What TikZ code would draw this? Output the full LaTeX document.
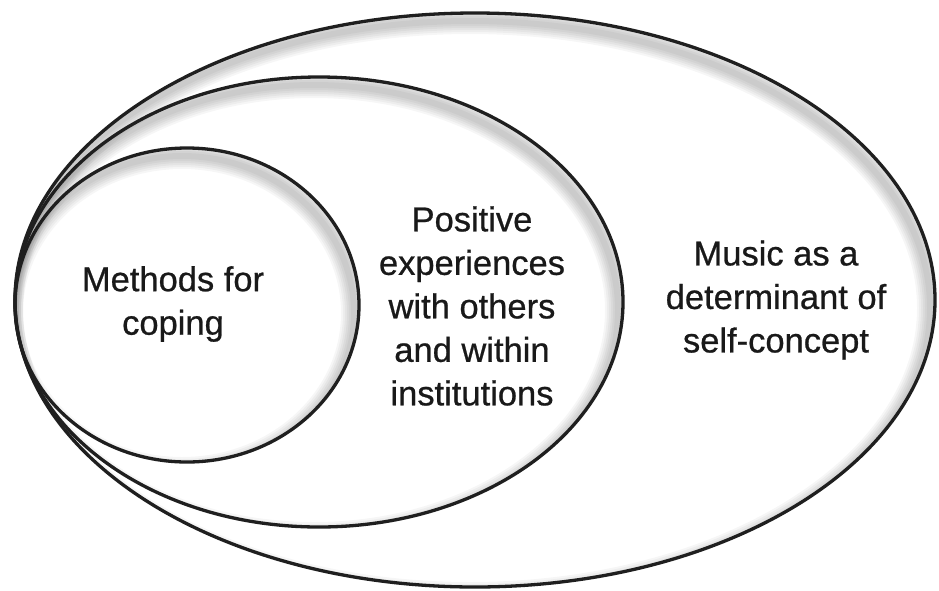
\documentclass[tikz,border=0pt]{standalone}
\usepackage{fontspec}
\setmainfont{Liberation Sans}
\newfontfamily\lblfont{Liberation Sans}[FakeBold=0.7]
\begin{document}
\begin{tikzpicture}[x=1pt,y=-1pt,
  ring/.style={draw=black!88, line width=3.3pt},
  lbl/.style={align=center, font=\lblfont\fontsize{34.5}{43.5}\selectfont, text=black!90, inner sep=0pt}]
\useasboundingbox (0,0) rectangle (939,590);
\fill[white] (0,0) rectangle (939,590);
% soft inner shadows
\foreach \cx/\cy/\rx/\ry in {475/300/460/287, 319/302/304/225, 187/305/172/157}{
  \begin{scope}
    \clip (\cx,\cy) ellipse [x radius=\rx, y radius=\ry];
    \foreach \w in {26,22,18,14,10,6}{
      \draw[black, opacity=0.035, line width=\w pt] (\cx-5,\cy+8) ellipse [x radius=\rx, y radius=\ry];
    }
  \end{scope}
}
\draw[ring] (475,300) ellipse [x radius=460, y radius=287];
\draw[ring] (319,302) ellipse [x radius=304, y radius=225];
\draw[ring] (187,305) ellipse [x radius=172, y radius=157];
\node[lbl] (inner) at (173,304) {Methods for\\coping};
\node[lbl] (middle) at (472,306) {Positive\\experiences\\with others\\and within\\institutions};
\node[lbl] (outer) at (776,300) {Music as a\\determinant of\\self-concept};
\end{tikzpicture}
\end{document}
